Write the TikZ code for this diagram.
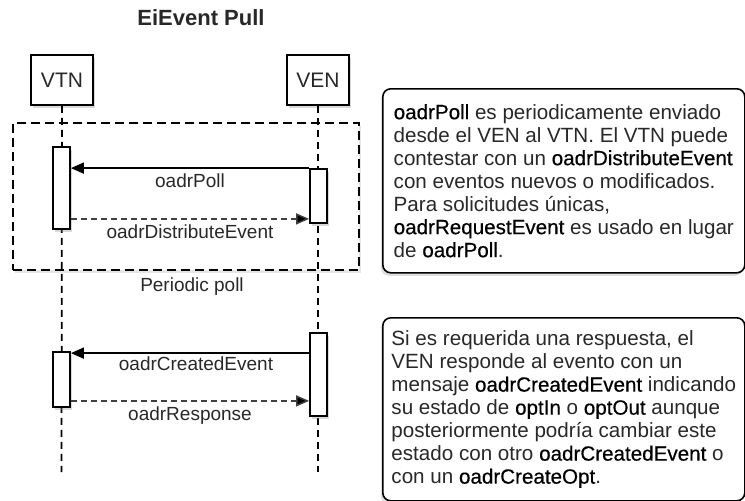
\documentclass[tikz,border=0pt]{standalone}
\usepackage{fontspec}
\usepackage{xcolor}
\usepackage{tikz}
\usetikzlibrary{positioning,calc,arrows.meta,shadows}
\setmainfont{Liberation Sans}
\newfontfamily\kwfont[FakeBold=0.45]{Liberation Sans}
\newcommand{\kw}[1]{{\kwfont\color{black}#1}}
\definecolor{txtgray}{RGB}{40,40,40}

\tikzset{
  actor/.style={draw, line width=1.8pt, fill=white, minimum width=62pt, minimum height=50pt,
    font=\fontsize{21}{24}\selectfont, text=txtgray,
    drop shadow={opacity=0.3, shadow xshift=2pt, shadow yshift=-3pt}},
  actbox/.style={draw, line width=1.8pt, fill=white, minimum width=17pt, inner sep=0pt,
    drop shadow={opacity=0.3, shadow xshift=2pt, shadow yshift=-3pt}},
  lifeline/.style={line width=1.8pt, dash pattern=on 7pt off 5pt},
  msg/.style={line width=1.8pt, -{Triangle[length=13pt,width=11pt]}},
  reply/.style={line width=1.4pt, black!75, dash pattern=on 6pt off 4pt,
    -{Triangle[length=13pt,width=11pt,fill=black]}},
  lbl/.style={font=\fontsize{19}{22}\selectfont, text=txtgray, inner sep=2pt},
  note/.style={draw, line width=1.6pt, rounded corners=8pt, fill=white, anchor=north west,
    minimum width=362pt, inner xsep=8pt, align=left,
    font=\fontsize{20.6}{23}\selectfont, text=txtgray,
    drop shadow={opacity=0.25, shadow xshift=-2pt, shadow yshift=-3pt}}
}

\begin{document}
\begin{tikzpicture}[x=1pt,y=-1pt]
    \useasboundingbox (0,0) rectangle (745,501);

    % Titulo
    \node[font=\bfseries\fontsize{22}{24}\selectfont, text=txtgray] (title) at (201,18) {EiEvent Pull};

    % Bloque periodico
    \node[draw, line width=1.8pt, dash pattern=on 9pt off 5pt, minimum width=346pt, minimum height=147pt,
      drop shadow={opacity=0.2, shadow xshift=2pt, shadow yshift=-3pt}, fill=white] (loop) at (186,196.5) {};
    \node[lbl, below=5pt of loop, xshift=6pt] (looplbl) {Periodic poll};

    % Participantes
    \node[actor] (vtn) at (62,80) {VTN};
    \node[actor] (ven) at (318,80) {VEN};
    \coordinate (vtnend) at (61.5,472);
    \coordinate (venend) at (318,472);
    \foreach \who in {vtn,ven} {
        \draw[lifeline] (\who.south) -- (\who end);
    }

    % Activaciones
    \node[actbox, minimum height=82pt] (vtna) at (61.5,188) {};
    \node[actbox, minimum height=54pt] (vena) at (318.5,196) {};
    \node[actbox, minimum height=55pt] (vtnb) at (61.5,379.5) {};
    \node[actbox, minimum height=83pt] (venb) at (318.5,374.5) {};

    % Mensajes
    \draw[msg] (vena.north west) -- (vtna.east |- vena.north west)
        node[lbl, midway, below=3pt] (polllbl) {oadrPoll};
    \coordinate (dist) at ([yshift=5pt]vena.south west);
    \draw[reply] (vtna.east |- dist) -- (dist)
        node[lbl, midway, below=3pt] (distlbl) {oadrDistributeEvent};
    \coordinate (created) at ([yshift=-2pt]vtnb.north east);
    \draw[msg] (venb.west |- created) -- (created)
        node[lbl, midway, below=1pt, xshift=6pt] (createdlbl) {oadrCreatedEvent};
    \coordinate (resp) at ([yshift=7pt]vtnb.south east);
    \draw[reply] (resp) -- (venb.west |- resp)
        node[lbl, midway, below=3pt] (resplbl) {oadrResponse};

    % Notas
    \node[note, minimum height=184pt] (note1) at (382,88) {%
        \kw{oadrPoll} es periodicamente enviado\\
        desde el VEN al VTN. El VTN puede\\
        contestar con un \kw{oadrDistributeEvent}\\
        con eventos nuevos o modificados.\\
        Para solicitudes únicas,\\
        \kw{oadrRequestEvent} es usado en lugar\\
        de \kw{oadrPoll}.};
    \node[note, minimum height=183pt] (note2) at (382,317) {%
        Si es requerida una respuesta, el\\
        VEN responde al evento con un\\
        mensaje \kw{oadrCreatedEvent} indicando\\
        su estado de \kw{optIn} o \kw{optOut} aunque\\
        posteriormente podría cambiar este\\
        estado con otro \kw{oadrCreatedEvent} o\\
        con un \kw{oadrCreateOpt}.};
\end{tikzpicture}
\end{document}
